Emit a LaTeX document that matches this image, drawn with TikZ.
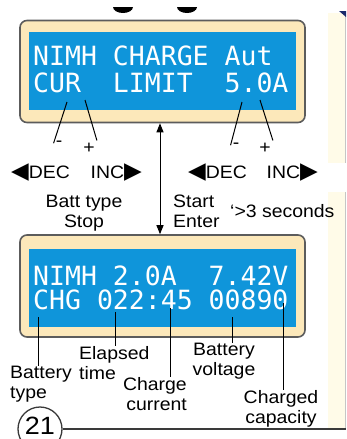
\documentclass[tikz,border=0pt]{standalone}
\usepackage{fontspec}
\setmainfont{Liberation Sans}[FakeStretch=1.08]
\newfontfamily\lcdfont{DejaVu Sans Mono}
\newfontfamily\symfont{DejaVu Sans}
\usetikzlibrary{arrows.meta,positioning,calc}
\definecolor{lcdblue}{HTML}{0F95DA}
\definecolor{bezel}{HTML}{FCE8BA}
\definecolor{bezeldraw}{HTML}{5C5C5C}
\definecolor{panelcream}{HTML}{FFFBE8}
\definecolor{inkgray}{HTML}{3A3A3A}
\definecolor{tabnavy}{HTML}{1A2A6C}

\begin{document}
\begin{tikzpicture}[x=1pt,y=-1pt,
  every node/.style={font=\fontsize{18}{20}\selectfont,inner sep=0pt},
  bezelbox/.style={draw=bezeldraw,line width=1.6pt,rounded corners=7pt,fill=bezel,minimum width=285pt,minimum height=102pt},
  screen/.style={fill=lcdblue,minimum width=267pt,minimum height=78pt},
  lcdline/.style={anchor=base west,text=white,font=\lcdfont\fontsize{26.5}{28}\selectfont},
  sign/.style={anchor=base,inner sep=2pt},
  ptr/.style={draw=black,line width=1pt}]
\useasboundingbox (0,0) rectangle (346,439);
% bits of the page around the picture
\fill[panelcream] (328,13) rectangle (346,163);
\fill[panelcream] (328,192) rectangle (346,428);
\draw[gray!45,line width=0.8pt] (345,13) -- (345,163) (345,192) -- (345,428);
\fill[tabnavy] (339,11) -- (346,11) -- (346,17) -- cycle;
\fill[black] (113,7) arc[start angle=180,end angle=0,x radius=10,y radius=6] -- cycle;
\fill[black] (177,7) arc[start angle=180,end angle=0,x radius=10,y radius=6] -- cycle;

% upper display
\node[bezelbox] (topframe) at (162.5,71.5) {};
\node[screen] (topscreen) at (162.5,71) {};
\node[lcdline] (topa) at (33,65) {NIMH CHARGE Aut};
\node[lcdline] (topb) at (33,92) {CUR\ \ LIMIT\ \ 5.0A};

% lower display
\node[bezelbox] (botframe) at (162.5,286) {};
\node[screen] (botscreen) at (162.5,288) {};
\node[lcdline] (bota) at (33,285) {NIMH 2.0A\ \ 7.42V};
\node[lcdline] (botb) at (33,309) {CHG 022:45 00890};

% keys
\node[sign] (minusL) at (59,146) {-};
\node[sign] (plusL) at (89,153) {+};
\node[sign] (minusR) at (236,148) {-};
\node[sign] (plusR) at (265,153) {+};
\coordinate (curA) at (67,102);
\coordinate (curB) at (85,100);
\coordinate (limA) at (242,102);
\coordinate (limB) at (260,100);
\draw[ptr] (curA) -- (minusL.west);
\draw[ptr] (curB) -- (plusL.north east);
\draw[ptr] (limA) -- (minusR.west);
\draw[ptr] (limB) -- (plusR.north east);

\node[anchor=base west] (decL) at (11,178) {{\symfont\fontsize{23}{20}\selectfont ◀}DEC};
\node[anchor=base east] (incL) at (142,178) {INC{\symfont\fontsize{23}{20}\selectfont ▶}};
\node[anchor=base west] (decR) at (188,178) {{\symfont\fontsize{23}{20}\selectfont ◀}DEC};
\node[anchor=base east] (incR) at (318,178) {INC{\symfont\fontsize{23}{20}\selectfont ▶}};

\node[anchor=north,align=center] (battstop) at (84,195) {Batt type\\Stop};
\node[anchor=north west,align=left] (startenter) at (173,195) {Start\\Enter};
\node[anchor=base west] (hold) at (230,217) {‘>3 seconds};
\draw[ptr,{Triangle[length=9pt,width=7pt]}-{Triangle[length=9pt,width=7pt]}]
  ([xshift=-2.5pt]topframe.south) -- ([xshift=-2.5pt]botframe.north);

% readout labels
\node[anchor=north west,align=left] (lBatt) at (10,366) {Battery\\type};
\node[anchor=north west,align=left] (lTime) at (79,346) {Elapsed\\time};
\node[anchor=north east,align=right] (lCurr) at (187,377) {Charge\\current};
\node[anchor=north,align=center] (lVolt) at (224,343) {Battery\\voltage};
\node[anchor=north,align=center] (lCap) at (281,390) {Charged\\capacity};
\coordinate (pBatt) at (38,317);
\coordinate (pTime) at (115,312);
\coordinate (pCurr) at (170,308);
\coordinate (pVolt) at (232,317);
\coordinate (pCap) at (283,303);
\foreach \p/\l in {pBatt/lBatt,pTime/lTime,pCurr/lCurr,pVolt/lVolt,pCap/lCap}{\draw[ptr] (\p) -- (\p |- \l.north);}

% page number
\node[circle,draw=inkgray,line width=1.3pt,minimum size=44pt] (pagenum) at (40,429) {};
\node[font=\fontsize{25}{25}\selectfont] (pagetxt) at (40,425.5) {21};
\coordinate (ruleend) at (346,429);
\draw[inkgray,line width=1.5pt] (pagenum.east) -- (ruleend);
\end{tikzpicture}
\end{document}
